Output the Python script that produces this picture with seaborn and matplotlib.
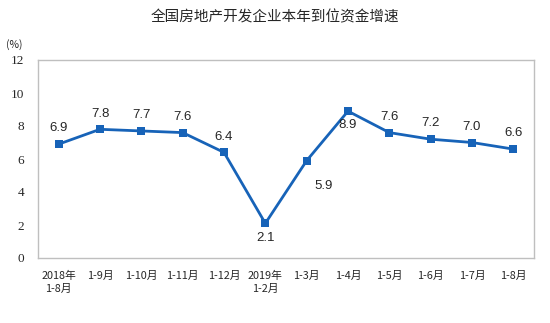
import matplotlib
matplotlib.use("Agg")
import matplotlib.pyplot as plt
import seaborn as sns
import pandas as pd

categories = ["2018年\n1-8月", "1-9月", "1-10月", "1-11月", "1-12月", "2019年\n1-2月",
              "1-3月", "1-4月", "1-5月", "1-6月", "1-7月", "1-8月"]
values = [6.9, 7.8, 7.7, 7.6, 6.4, 2.1, 5.9, 8.9, 7.6, 7.2, 7.0, 6.6]
yticks = [0, 2, 4, 6, 8, 10, 12]
title = "全国房地产开发企业本年到位资金增速"
unit = "(%)"

label_place = ["up", "up", "up", "up", "up", "down", "right", "down", "up", "up", "up", "up"]

sns.set_style("white")
plt.rcParams["font.family"] = ["Noto Sans CJK SC", "DejaVu Sans"]

df = pd.DataFrame({"x": range(len(values)), "y": values})

fig = plt.figure(figsize=(5.5, 3.23), dpi=100)
ax = fig.add_axes([38/550, 1-258/323, (534-38)/550, (258-60)/323])
color = "#1763B8"
sns.lineplot(data=df, x="x", y="y", ax=ax, color=color, linewidth=2,
             marker="s", markersize=5.5, markeredgewidth=0, markerfacecolor=color)

ax.set_xlim(-0.5, len(values) - 0.5)
ax.set_ylim(0, 12)
ax.set_yticks(yticks)
ax.set_yticklabels([str(t) for t in yticks], family="Liberation Serif", fontsize=9.5)
ax.set_xticks(range(len(values)))
ax.set_xticklabels(categories, fontsize=7.8, linespacing=1.45)
ax.set_xticks([i + 0.5 for i in range(len(values) - 1)], minor=True)
ax.tick_params(axis="x", which="major", length=0, pad=9)
ax.tick_params(axis="x", which="minor", direction="in", length=4, color="#BFBFBF", width=0.8)
ax.tick_params(axis="y", length=0, pad=10)
ax.set_xlabel("")
ax.set_ylabel("")
for s in ax.spines.values():
    s.set_visible(True)
    s.set_color("#BFBFBF")
    s.set_linewidth(1)

for i, (v, p) in enumerate(zip(values, label_place)):
    if p == "up":
        ax.annotate(f"{v:.1f}", (i, v), xytext=(0, 7), textcoords="offset points",
                    ha="center", va="bottom", fontsize=9.5, family="Liberation Sans")
    elif p == "down":
        ax.annotate(f"{v:.1f}", (i, v), xytext=(0, -6), textcoords="offset points",
                    ha="center", va="top", fontsize=9.5, family="Liberation Sans")
    else:
        ax.annotate(f"{v:.1f}", (i, v), xytext=(12, -14), textcoords="offset points",
                    ha="center", va="top", fontsize=9.5, family="Liberation Sans")

fig.text(275/550, 1-17/323, title, ha="center", va="center", fontsize=10.5)
fig.text(6/550, 1-45/323, unit, ha="left", va="center", fontsize=7.5)

fig.savefig("out.png", dpi=100)
